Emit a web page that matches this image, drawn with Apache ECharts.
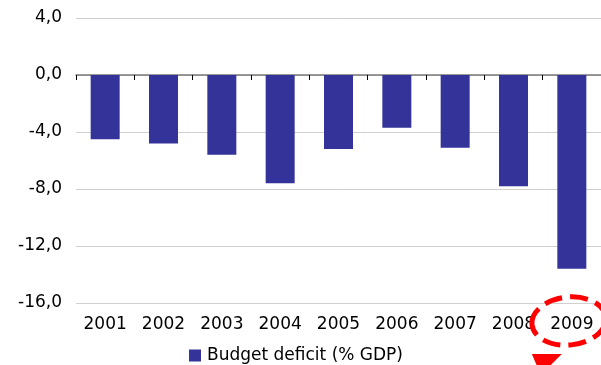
<!DOCTYPE html>
<html>
<head>
<meta charset="utf-8">
<title>Budget deficit (% GDP)</title>
<script src="https://cdn.jsdelivr.net/npm/echarts@6/dist/echarts.min.js"></script>
<style>
  html, body { margin: 0; padding: 0; background: #ffffff; }
  #chart { width: 601px; height: 365px; }
</style>
</head>
<body>
<div id="chart"></div>
<script>
// Budget deficit as a share of GDP, 2001-2009
const years = ['2001', '2002', '2003', '2004', '2005', '2006', '2007', '2008', '2009'];
const deficit = [-4.5, -4.8, -5.6, -7.6, -5.2, -3.7, -5.1, -7.8, -13.6];
const seriesName = 'Budget deficit (% GDP)';
const yTicks = { min: -16, max: 4, interval: 4 };
const highlightYear = '2009';

const FONT = 'DejaVu Sans';
const chart = echarts.init(document.getElementById('chart'), null, { renderer: 'canvas' });

chart.setOption({
  animation: false,
  backgroundColor: '#ffffff',
  textStyle: { fontFamily: FONT },
  grid: { left: 76, right: 0, top: 18, bottom: 62 },
  legend: {
    data: [seriesName],
    left: 184,
    top: 342,
    icon: 'rect',
    itemWidth: 12,
    itemHeight: 12,
    itemGap: 8,
    textStyle: { fontFamily: FONT, fontSize: 17, color: '#000000', padding: [0, 0, 0, 1] }
  },
  xAxis: [
    {
      // zero line with category separators
      type: 'category',
      data: years,
      position: 'bottom',
      axisLine: { onZero: true, lineStyle: { color: '#7a7a7a', width: 1.5 } },
      axisTick: { show: true, length: 5, lineStyle: { color: '#000000', width: 1 } },
      axisLabel: { show: false },
      splitLine: { show: false }
    },
    {
      // year labels along the bottom edge
      type: 'category',
      data: years,
      position: 'bottom',
      axisLine: { show: false, onZero: false },
      axisTick: { show: false },
      axisLabel: { show: true, margin: 13, fontFamily: FONT, fontSize: 17, color: '#000000' },
      splitLine: { show: false }
    }
  ],
  yAxis: {
    type: 'value',
    min: yTicks.min,
    max: yTicks.max,
    interval: yTicks.interval,
    axisLine: { show: false },
    axisTick: { show: false },
    axisLabel: {
      margin: 14,
      fontFamily: FONT,
      fontSize: 17,
      color: '#000000',
      formatter: v => v.toFixed(1).replace('.', ',')
    },
    splitLine: { show: true, lineStyle: { color: '#d0d0d0', width: 1 } }
  },
  series: [{
    name: seriesName,
    type: 'bar',
    xAxisIndex: 0,
    data: deficit,
    barWidth: 29,
    itemStyle: { color: '#333399' }
  }]
});

// Red dashed ring and pointer highlighting the last year
const cx = chart.convertToPixel({ xAxisIndex: 1 }, highlightYear);
const yBase = chart.convertToPixel({ yAxisIndex: 0 }, yTicks.min);
chart.setOption({
  graphic: [
    {
      type: 'ellipse',
      shape: { cx: cx - 3, cy: yBase + 18, rx: 37, ry: 24 },
      rotation: 0.1,
      originX: cx - 3,
      originY: yBase + 18,
      style: { fill: null, stroke: '#ff0000', lineWidth: 5, lineDash: [18, 8] },
      z: 100
    },
    {
      type: 'polygon',
      shape: { points: [[cx - 40, yBase + 51], [cx - 10, yBase + 51], [cx - 31, yBase + 72]] },
      style: { fill: '#ff0000' },
      z: 100
    }
  ]
});
</script>
</body>
</html>
